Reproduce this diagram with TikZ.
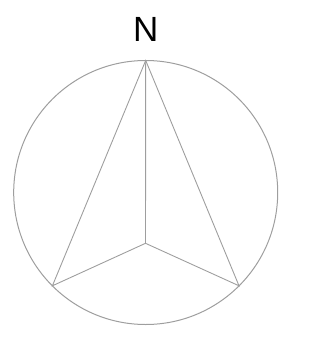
\documentclass[tikz,border=0pt]{standalone}
\usepackage{fontspec}
\setmainfont{Liberation Sans}
\usepackage{tikz}
\usetikzlibrary{positioning,calc}
\definecolor{rim}{RGB}{158,158,158}

\begin{document}
\begin{tikzpicture}[x=1pt,y=-1pt,every node/.style={font=\fontsize{35}{35}\selectfont}]
  \useasboundingbox (0,0) rectangle (320,339);
  \coordinate (C) at (145.7,192.5);
  \draw[rim,line width=1pt] (C) circle (132pt);
  % arrow vertices
  \coordinate (tip) at ($(C)+(0,-132)$);
  \coordinate (left) at ($(C)+(-93.3,93.3)$);
  \coordinate (right) at ($(C)+(93.3,93.3)$);
  \coordinate (hub) at (145.5,243.3);
  \draw[rim,line width=0.9pt,line join=miter] (tip) -- (left) -- (hub) -- (right) -- cycle;
  \draw[rim,line width=0.9pt] (tip) -- (hub);
  \node[inner sep=0pt,anchor=base] (north) at (145.7,41.3) {N};
\end{tikzpicture}
\end{document}
